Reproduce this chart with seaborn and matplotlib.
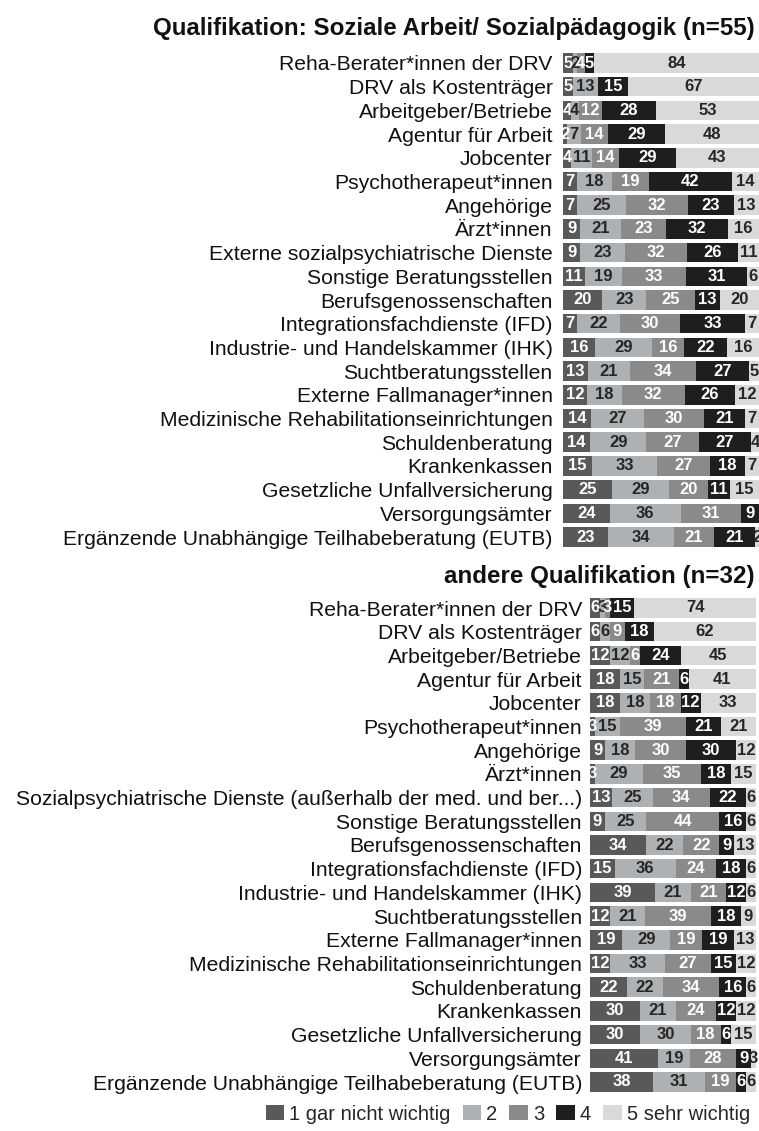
import numpy as np
import pandas as pd
import matplotlib
matplotlib.use("Agg")
import matplotlib.pyplot as plt
from matplotlib.patches import Patch
import seaborn as sns

# ---------------- data ----------------
levels = ["1 gar nicht wichtig", "2", "3", "4", "5 sehr wichtig"]

title_top = "Qualifikation: Soziale Arbeit/ Sozialpädagogik (n=55)"
cats_top = [
    "Reha-Berater*innen der DRV",
    "DRV als Kostenträger",
    "Arbeitgeber/Betriebe",
    "Agentur für Arbeit",
    "Jobcenter",
    "Psychotherapeut*innen",
    "Angehörige",
    "Ärzt*innen",
    "Externe sozialpsychiatrische Dienste",
    "Sonstige Beratungsstellen",
    "Berufsgenossenschaften",
    "Integrationsfachdienste (IFD)",
    "Industrie- und Handelskammer (IHK)",
    "Suchtberatungsstellen",
    "Externe Fallmanager*innen",
    "Medizinische Rehabilitationseinrichtungen",
    "Schuldenberatung",
    "Krankenkassen",
    "Gesetzliche Unfallversicherung",
    "Versorgungsämter",
    "Ergänzende Unabhängige Teilhabeberatung (EUTB)",
]
vals_top = [
    [5, 2, 4, 5, 84],
    [5, 13, 0, 15, 67],
    [4, 4, 12, 28, 53],
    [2, 7, 14, 29, 48],
    [4, 11, 14, 29, 43],
    [7, 18, 19, 42, 14],
    [7, 25, 32, 23, 13],
    [9, 21, 23, 32, 16],
    [9, 23, 32, 26, 11],
    [11, 19, 33, 31, 6],
    [20, 23, 25, 13, 20],
    [7, 22, 30, 33, 7],
    [16, 29, 16, 22, 16],
    [13, 21, 34, 27, 5],
    [12, 18, 32, 26, 12],
    [14, 27, 30, 21, 7],
    [14, 29, 27, 27, 4],
    [15, 33, 27, 18, 7],
    [25, 29, 20, 11, 15],
    [24, 36, 31, 9, 0],
    [23, 34, 21, 21, 2],
]

title_bot = "andere Qualifikation (n=32)"
cats_bot = [
    "Reha-Berater*innen der DRV",
    "DRV als Kostenträger",
    "Arbeitgeber/Betriebe",
    "Agentur für Arbeit",
    "Jobcenter",
    "Psychotherapeut*innen",
    "Angehörige",
    "Ärzt*innen",
    "Sozialpsychiatrische Dienste (außerhalb der med. und ber...)",
    "Sonstige Beratungsstellen",
    "Berufsgenossenschaften",
    "Integrationsfachdienste (IFD)",
    "Industrie- und Handelskammer (IHK)",
    "Suchtberatungsstellen",
    "Externe Fallmanager*innen",
    "Medizinische Rehabilitationseinrichtungen",
    "Schuldenberatung",
    "Krankenkassen",
    "Gesetzliche Unfallversicherung",
    "Versorgungsämter",
    "Ergänzende Unabhängige Teilhabeberatung (EUTB)",
]
vals_bot = [
    [6, 3, 3, 15, 74],
    [6, 6, 9, 18, 62],
    [12, 12, 6, 24, 45],
    [18, 15, 21, 6, 41],
    [18, 18, 18, 12, 33],
    [3, 15, 39, 21, 21],
    [9, 18, 30, 30, 12],
    [3, 29, 35, 18, 15],
    [13, 25, 34, 22, 6],
    [9, 25, 44, 16, 6],
    [34, 22, 22, 9, 13],
    [15, 36, 24, 18, 6],
    [39, 21, 21, 12, 6],
    [12, 21, 39, 18, 9],
    [19, 29, 19, 19, 13],
    [12, 33, 27, 15, 12],
    [22, 22, 34, 16, 6],
    [30, 21, 24, 12, 12],
    [30, 30, 18, 6, 15],
    [41, 19, 28, 9, 3],
    [38, 31, 19, 6, 6],
]

# ---------------- style ----------------
colors = ["#595959", "#aeb1b4", "#8a8a8a", "#1e1e1e", "#d9d9d9"]
text_colors = ["white", "#262626", "white", "white", "#262626"]

sns.set_theme(style="white")
plt.rcParams["font.family"] = ["Liberation Sans", "DejaVu Sans"]

W, H = 759, 1131
fig = plt.figure(figsize=(W / 100, H / 100), dpi=100)

LABEL_FS = 15.2
LEGEND_FS = 14.5
VALUE_FS = 12
TITLE_FS = 17.4


def draw_panel(ax, cats, vals, pad):
    df = pd.DataFrame(vals, columns=levels)
    norm = df.div(df.sum(axis=1), axis=0) * 100
    for k in reversed(range(len(levels))):
        cum = norm.iloc[:, : k + 1].sum(axis=1)
        sns.barplot(x=cum.values, y=cats, orient="h", color=colors[k],
                    saturation=1, width=0.82, linewidth=0, ax=ax)
    starts = norm.cumsum(axis=1) - norm
    for i in range(len(cats)):
        for k in range(len(levels)):
            v = df.iat[i, k]
            if v <= 0:
                continue
            xc = starts.iat[i, k] + norm.iat[i, k] / 2
            ax.text(xc, i, str(v), ha="center", va="center",
                    color=text_colors[k], fontsize=VALUE_FS,
                    fontweight="bold", clip_on=False)
    ax.set_xlim(0, 100)
    ax.set_ylim(len(cats) - 0.5, -0.5)
    ax.set_xlabel("")
    ax.set_ylabel("")
    ax.xaxis.set_visible(False)
    for s in ax.spines.values():
        s.set_visible(False)
    ax.tick_params(axis="y", length=0, pad=pad, labelsize=LABEL_FS,
                   labelcolor="#111111")
    ax.patch.set_alpha(0)


def px_axes(x0, x1, yc_first, spacing, n):
    top = yc_first - spacing / 2
    bottom = top + n * spacing
    return [x0 / W, 1 - bottom / H, (x1 - x0) / W, (bottom - top) / H]


sp = 23.7
ax1 = fig.add_axes(px_axes(563, 759, 63, sp, len(cats_top)))
draw_panel(ax1, cats_top, vals_top, pad=7.5)
ax2 = fig.add_axes(px_axes(590, 756, 608, sp, len(cats_bot)))
draw_panel(ax2, cats_bot, vals_bot, pad=5.8)

fig.text(755 / W, 1 - 28 / H, title_top, ha="right", va="center",
         fontsize=TITLE_FS, fontweight="bold", color="#111111")
fig.text(755 / W, 1 - 576 / H, title_bot, ha="right", va="center",
         fontsize=TITLE_FS, fontweight="bold", color="#111111")

handles = [Patch(facecolor=c, edgecolor="none", label=l) for c, l in zip(colors, levels)]
fig.legend(handles=handles, loc="center right", bbox_to_anchor=(750 / W, 1 - 1114 / H),
           ncol=5, frameon=False, fontsize=LEGEND_FS, handlelength=0.92,
           handleheight=0.8, handletextpad=0.25, columnspacing=0.6,
           borderpad=0, borderaxespad=0)

fig.savefig("out.png", dpi=100)
